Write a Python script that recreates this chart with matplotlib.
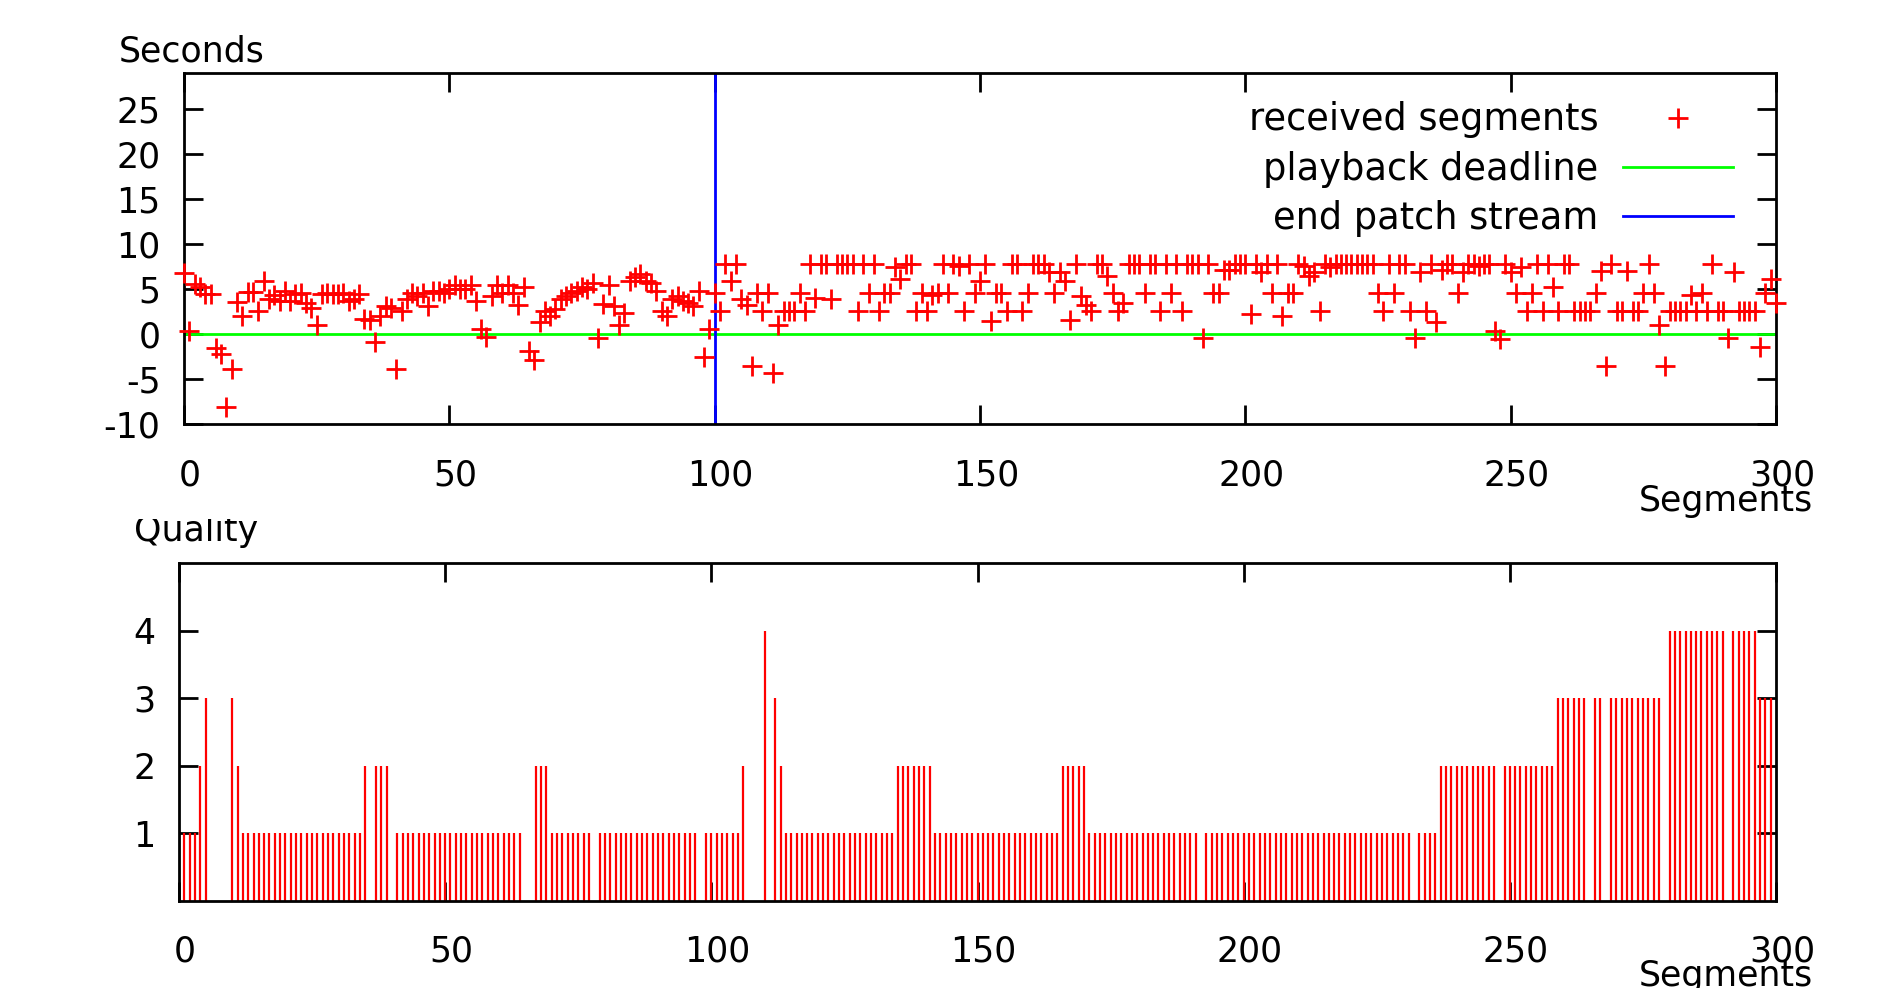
import numpy as np
import matplotlib
matplotlib.use("Agg")
import matplotlib.pyplot as plt
from matplotlib.transforms import Bbox, TransformedBbox, ScaledTranslation

plt.rcParams["axes.unicode_minus"] = False

# segment index for the top chart (0..300) and the bottom chart (0..299)
segments = np.arange(301)
quality_segments = np.arange(300)

# slack before playback deadline, seconds
delay = [
    6.8, 0.3, 5.6, 5.2, 4.5, 4.4, -1.6, -2.2, -8.1, -3.9,
    3.6, 2.0, 4.7, 4.7, 2.6, 5.9, 3.9, 4.3, 3.7, 4.8,
    3.7, 4.4, 4.6, 3.5, 2.9, 1.0, 4.5, 4.6, 4.5, 4.4,
    4.6, 3.7, 3.9, 4.4, 1.7, 1.6, -0.9, 2.0, 3.1, 2.9,
    -3.9, 2.6, 3.9, 4.6, 4.2, 4.6, 3.1, 4.8, 4.8, 4.6,
    5.0, 5.4, 5.0, 5.0, 5.4, 3.7, 0.6, -0.3, 4.2, 5.4,
    4.6, 5.4, 4.6, 3.2, 5.2, -1.9, -2.9, 1.3, 2.6, 2.0,
    2.8, 3.9, 4.2, 4.6, 4.8, 5.2, 5.0, 5.7, -0.4, 3.3,
    5.4, 3.1, 1.0, 2.3, 5.9, 6.3, 6.7, 5.9, 5.7, 4.8,
    2.6, 2.0, 3.9, 4.2, 3.7, 3.5, 3.1, 4.8, -2.6, 0.6,
    4.6, 2.6, 7.8, 5.9, 7.8, 3.9, 3.2, -3.5, 4.6, 2.6,
    4.6, -4.3, 1.0, 2.6, 2.6, 2.6, 4.6, 2.6, 7.8, 4.0,
    7.8, 7.8, 3.9, 7.8, 7.8, 7.8, 7.8, 2.6, 7.8, 4.6,
    7.8, 2.6, 4.6, 4.6, 7.4, 6.1, 7.8, 7.8, 2.6, 4.6,
    2.6, 4.3, 4.6, 7.8, 4.6, 7.8, 7.6, 2.6, 7.8, 4.6,
    5.9, 7.8, 1.4, 4.6, 4.6, 2.6, 7.8, 7.8, 2.6, 4.6,
    7.8, 7.8, 7.8, 6.9, 4.6, 6.9, 5.9, 1.6, 7.8, 4.2,
    3.2, 2.6, 7.8, 7.8, 6.5, 4.6, 2.6, 3.5, 7.8, 7.8,
    7.8, 4.6, 7.8, 7.8, 2.6, 7.8, 4.6, 7.8, 2.6, 7.8,
    7.8, 7.8, -0.4, 7.8, 4.6, 4.6, 7.1, 7.1, 7.8, 7.8,
    7.8, 2.2, 7.8, 6.9, 7.8, 4.6, 7.8, 2.0, 4.6, 4.6,
    7.8, 7.6, 6.5, 6.9, 2.6, 7.8, 7.4, 7.8, 7.8, 7.8,
    7.8, 7.8, 7.8, 7.8, 7.8, 4.6, 2.6, 7.8, 4.6, 7.8,
    7.8, 2.6, -0.4, 6.9, 2.6, 7.8, 1.3, 7.1, 7.8, 7.8,
    4.6, 6.9, 7.8, 7.8, 7.6, 7.8, 7.8, 0.3, -0.6, 7.8,
    6.9, 4.6, 7.4, 2.6, 4.6, 7.8, 2.6, 7.8, 5.2, 2.6,
    7.8, 7.8, 2.6, 2.6, 2.6, 2.6, 4.6, 7.0, -3.5, 7.8,
    2.6, 2.6, 7.0, 2.6, 2.6, 4.6, 7.8, 4.6, 1.0, -3.5,
    2.6, 2.6, 2.6, 2.6, 4.3, 2.6, 4.6, 2.6, 7.8, 2.6,
    2.6, -0.4, 6.9, 2.6, 2.6, 2.6, 2.6, -1.4, 4.6, 6.1,
    3.5,
]

# quality level chosen per segment
quality = [
    1, 1, 1, 1, 2, 3, 0, 0, 0, 0, 3, 2, 1, 1, 1, 1, 1, 1, 1, 1,
    1, 1, 1, 1, 1, 1, 1, 1, 1, 1, 1, 1, 1, 1, 1, 2, 0, 2, 2, 2,
    0, 1, 1, 1, 1, 1, 1, 1, 1, 1, 1, 1, 1, 1, 1, 1, 1, 1, 1, 1,
    1, 1, 1, 1, 1, 0, 0, 2, 2, 2, 1, 1, 1, 1, 1, 1, 1, 1, 0, 1,
    1, 1, 1, 1, 1, 1, 1, 1, 1, 1, 1, 1, 1, 1, 1, 1, 1, 1, 0, 1,
    1, 1, 1, 1, 1, 1, 2, 0, 0, 0, 4, 0, 3, 2, 1, 1, 1, 1, 1, 1,
    1, 1, 1, 1, 1, 1, 1, 1, 1, 1, 1, 1, 1, 1, 1, 2, 2, 2, 2, 2,
    2, 2, 1, 1, 1, 1, 1, 1, 1, 1, 1, 1, 1, 1, 1, 1, 1, 1, 1, 1,
    1, 1, 1, 1, 1, 1, 2, 2, 2, 2, 2, 1, 1, 1, 1, 1, 1, 1, 1, 1,
    1, 1, 1, 1, 1, 1, 1, 1, 1, 1, 1, 1, 0, 1, 1, 1, 1, 1, 1, 1,
    1, 1, 1, 1, 1, 1, 1, 1, 1, 1, 1, 1, 1, 1, 1, 1, 1, 1, 1, 1,
    1, 1, 1, 1, 1, 1, 1, 1, 1, 1, 1, 1, 0, 1, 1, 1, 1, 2, 2, 2,
    2, 2, 2, 2, 2, 2, 2, 2, 0, 2, 2, 2, 2, 2, 2, 2, 2, 2, 2, 3,
    3, 3, 3, 3, 3, 0, 3, 3, 0, 3, 3, 3, 3, 3, 3, 3, 3, 3, 3, 0,
    4, 4, 4, 4, 4, 4, 4, 4, 4, 4, 4, 0, 4, 4, 4, 4, 4, 3, 3, 3,
]

deadline = 0
end_patch = 100

delay_ticks = [-10, -5, 0, 5, 10, 15, 20, 25]
quality_ticks = [1, 2, 3, 4]
segment_ticks = [0, 50, 100, 150, 200, 250, 300]

W, H = 1884, 988
FS = 25


def box(l, t, r, b):
    return [l / W, 1 - b / H, (r - l) / W, (b - t) / H]


def style(ax, pad_x, pad_y):
    for s in ax.spines.values():
        s.set_linewidth(2)
    ax.tick_params(direction="in", length=14, width=2, top=True, right=True,
                   labelsize=FS)
    ax.tick_params(axis="x", pad=pad_x)
    ax.tick_params(axis="y", pad=pad_y)


fig = plt.figure(figsize=(W / 100, H / 100), dpi=100)
# gnuplot puts x tick labels a few pixels right of the tick
nudge = ScaledTranslation(6 / 100, 0, fig.dpi_scale_trans)

# --- top: arrival slack ---
ax1 = fig.add_axes(box(184, 73, 1776, 424))
ax1.plot(segments, delay, "+", color="red", ms=14, mew=2, clip_on=False,
         zorder=3, label="received segments")
ax1.axhline(deadline, color="#00ff00", lw=2, label="playback deadline")
ax1.axvline(end_patch, color="#0000ff", lw=2, label="end patch stream")
ax1.set_xlim(0, 300)
ax1.set_ylim(-10, 29)
ax1.set_xticks(segment_ticks)
ax1.set_yticks(delay_ticks)
style(ax1, 25, 17)
ax1.legend(loc="upper right", bbox_to_anchor=(0.973, 0.919), frameon=False,
           fontsize=26.5, markerfirst=False, handlelength=3.0,
           handletextpad=0.65, labelspacing=0.33, borderpad=0,
           borderaxespad=0, numpoints=1)

# --- bottom: quality level ---
ax2 = fig.add_axes(box(179, 563, 1776, 901))
ax2.vlines(quality_segments, 0, quality, color="red", lw=1.6)
ax2.set_xlim(0, 300)
ax2.set_ylim(0, 5)
ax2.set_xticks(segment_ticks)
ax2.set_yticks(quality_ticks)
style(ax2, 24, 17)

for ax in (ax1, ax2):
    for lab in ax.get_xticklabels():
        lab.set_transform(lab.get_transform() + nudge)

# axis titles placed the gnuplot way
fig.text(192 / W, 1 - 52 / H, "Seconds", fontsize=FS, ha="center", va="center")
fig.text(1726 / W, 1 - 501 / H, "Segments", fontsize=FS, ha="center", va="center")
q = fig.text(196 / W, 1 - 531 / H, "Quality", fontsize=FS, ha="center", va="center")
q.set_clip_box(TransformedBbox(Bbox([[0, 0], [1, 1 - 519 / H]]), fig.transFigure))
q.set_clip_on(True)
fig.text(1726 / W, 1 - 976 / H, "Segments", fontsize=FS, ha="center", va="center")

fig.savefig("out.png", dpi=100, facecolor="white")
